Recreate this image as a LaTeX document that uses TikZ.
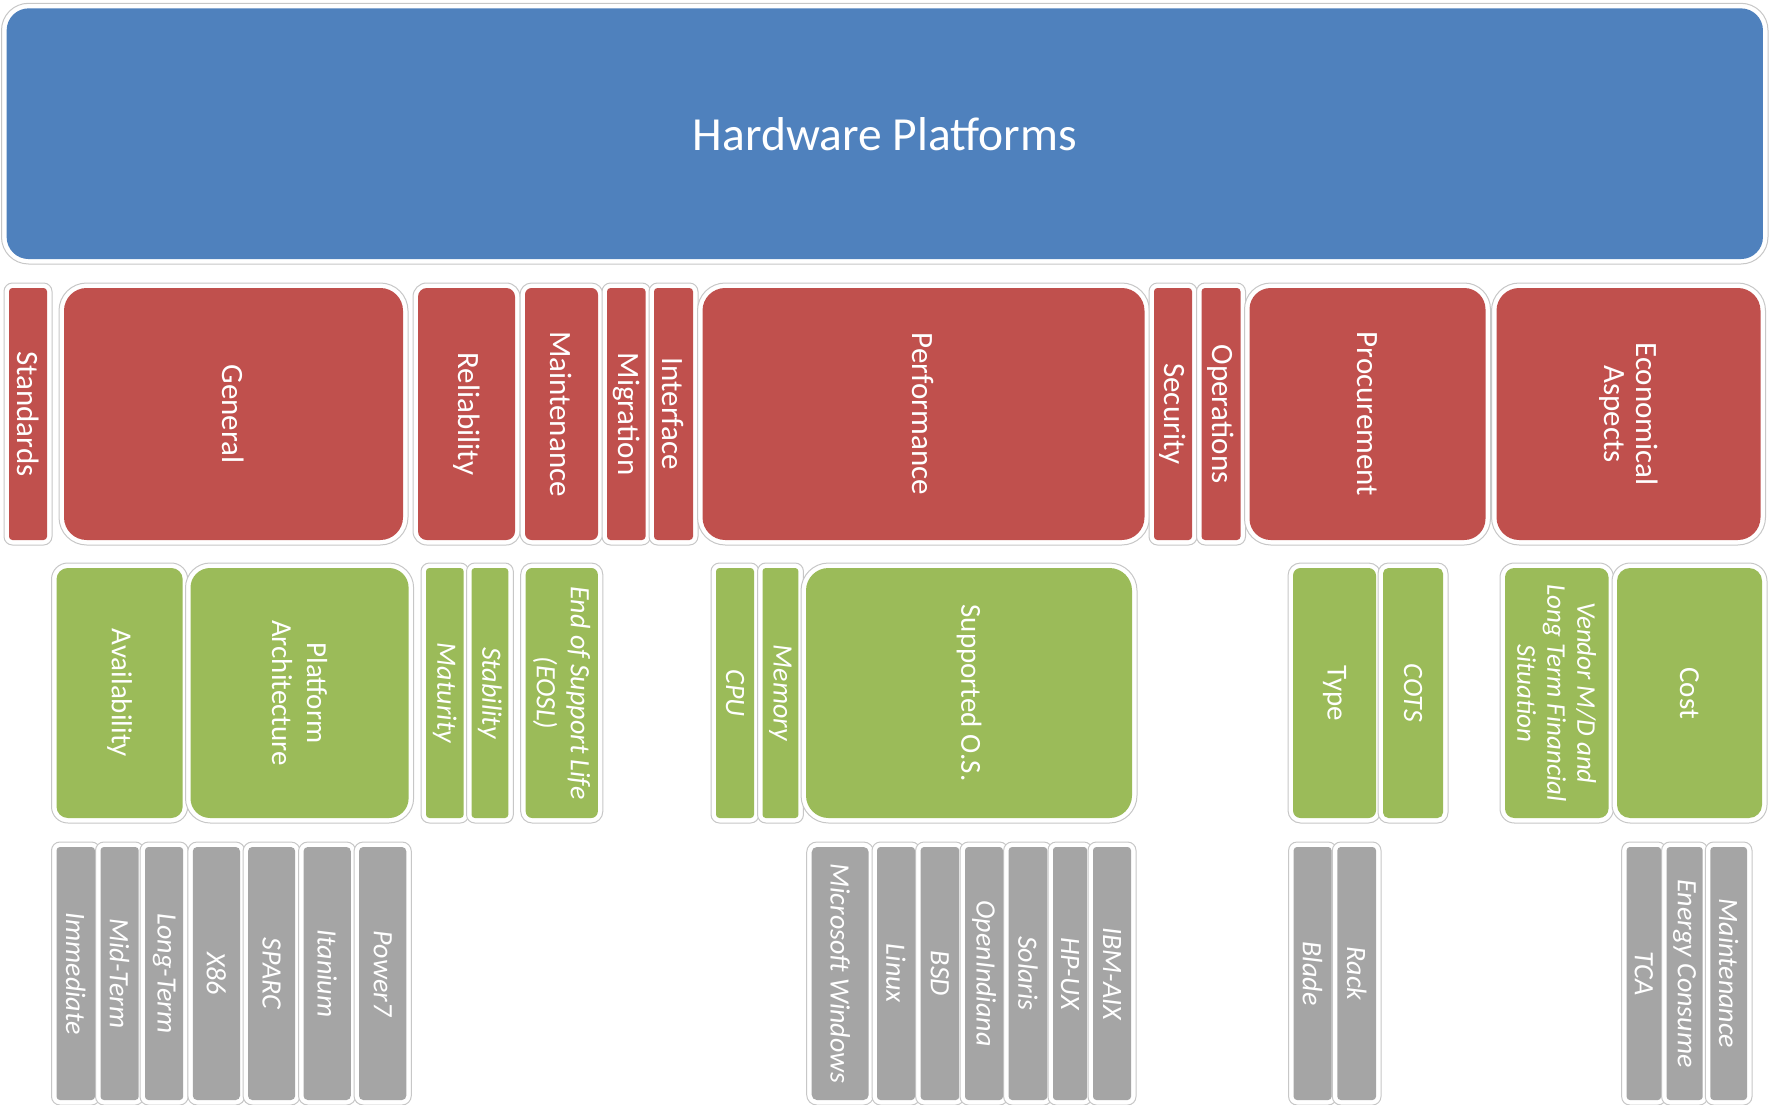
\documentclass[tikz,border=0pt]{standalone}
\usepackage{fontspec}
\setmainfont{Carlito}
\usepackage{xcolor}
\usetikzlibrary{math}
\definecolor{hwblue}{RGB}{79,129,189}
\definecolor{hwred}{RGB}{192,80,77}
\definecolor{hwgreen}{RGB}{155,187,89}
\definecolor{hwgray}{RGB}{165,165,165}
\pgfdeclarelayer{bg}
\pgfsetlayers{bg,main}

\tikzset{
  frame/.style={draw=black!22, line width=1pt, fill=white},
  tilebox/.style={rotate=-90, inner sep=0pt, align=center, text=white},
  redtile/.style={tilebox, fill=hwred, font=\fontsize{31}{32}\selectfont},
  greentile/.style={tilebox, fill=hwgreen, font=\fontsize{29}{35}\selectfont},
  greenit/.style={greentile, font=\fontsize{28}{34}\selectfont\itshape},
  graytile/.style={tilebox, fill=hwgray, font=\fontsize{28}{32}\selectfont\itshape},
}

% name, style, left, right, top, bottom, text
\newcommand{\tile}[7]{
  \tikzmath{
    \tw=#4-#3; \th=#6-#5;
    \tr=min(0.09*min(\tw,\th),24); \fr=\tr+5;
  }
  \begin{pgfonlayer}{bg}
    \draw[frame, rounded corners=\fr pt] (#3-5,#5-5) rectangle (#4+5,#6+5);
  \end{pgfonlayer}
  \node[#2, minimum width=\th pt, minimum height=\tw pt, rounded corners=\tr pt]
    (#1) at ({(#3+#4)/2},{(#5+#6)/2}) {#7};
}

\begin{document}
\begin{tikzpicture}[x=1pt,y=-1pt]
\useasboundingbox (0,0) rectangle (1773,1105);

% top level
\begin{pgfonlayer}{bg}
\draw[frame, rounded corners=27pt] (1.5,3.3) rectangle (1768,264);
\end{pgfonlayer}
\node[fill=hwblue, text=white, inner sep=0pt, rounded corners=22pt,
  minimum width=1756.3pt, minimum height=250.7pt,
  font=\fontsize{47.5}{50}\selectfont] (hw) at (884.8,133.7) {Hardware Platforms};

% criteria
\tile{std}{redtile}{9}{47}{288}{540}{Standards}
\tile{gen}{redtile}{64}{403}{288}{540}{General}
\tile{rel}{redtile}{418}{515}{288}{540}{Reliability}
\tile{mnt}{redtile}{525}{598}{288}{540}{Maintenance}
\tile{mig}{redtile}{607}{645.5}{288}{540}{Migration}
\tile{inf}{redtile}{654}{693}{288}{540}{Interface}
\tile{prf}{redtile}{702.5}{1144.5}{288}{540}{Performance}
\tile{sec}{redtile}{1154}{1192}{288}{540}{Security}
\tile{ops}{redtile}{1201.5}{1240.5}{288}{540}{Operations}
\tile{prc}{redtile}{1249.5}{1485.5}{288}{540}{Procurement}
\tile{eco}{redtile}{1496.5}{1760.5}{288}{540}{Economical\\Aspects}

% sub-criteria
\tile{ava}{greentile}{56.5}{182.7}{568}{818}{Availability}
\tile{pla}{greentile}{190.5}{408.6}{568}{818}{Platform\\Architecture}
\tile{mat}{greenit}{426}{463.7}{568}{818}{Maturity}
\tile{sta}{greenit}{471.5}{508.3}{568}{818}{Stability}
\tile{eos}{greenit}{525.7}{597.8}{568}{818}{End of Support Life\\(EOSL)}
\tile{cpu}{greenit}{716}{754}{568}{818}{CPU}
\tile{mem}{greenit}{762.5}{798.4}{568}{818}{Memory}
\tile{sos}{greentile}{806}{1132}{568}{818}{Supported O.S.}
\tile{typ}{greentile}{1293}{1376}{568}{818}{Type}
\tile{cot}{greenit}{1383}{1443}{568}{818}{COTS}
\tile{ven}{greenit, font=\fontsize{27}{30}\selectfont\itshape}{1505}{1608.5}{568}{818}{Vendor M/D and\\Long Term Financial\\Situation}
\tile{cst}{greentile}{1617}{1762}{568}{818}{Cost}

% options
\tile{imm}{graytile}{56.5}{95}{847}{1100}{Immediate}
\tile{mid}{graytile}{100.5}{138.7}{847}{1100}{Mid-Term}
\tile{lng}{graytile}{145}{183.2}{847}{1100}{Long-Term}
\tile{xes}{graytile}{192.8}{240}{847}{1100}{X86}
\tile{spa}{graytile}{248}{295.2}{847}{1100}{SPARC}
\tile{ita}{graytile}{303.5}{350.8}{847}{1100}{Itanium}
\tile{pow}{graytile}{359}{406.3}{847}{1100}{Power7}
\tile{win}{graytile}{811.7}{868.7}{847}{1100}{Microsoft Windows}
\tile{lin}{graytile}{877}{915}{847}{1100}{Linux}
\tile{bsd}{graytile}{920.6}{959.2}{847}{1100}{BSD}
\tile{opi}{graytile}{965}{1003}{847}{1100}{OpenIndiana}
\tile{sol}{graytile}{1008.6}{1047.3}{847}{1100}{Solaris}
\tile{hpx}{graytile}{1053}{1087}{847}{1100}{HP-UX}
\tile{aix}{graytile}{1093}{1131}{847}{1100}{IBM-AIX}
\tile{bla}{graytile}{1293.6}{1331.6}{847}{1100}{Blade}
\tile{rck}{graytile}{1337.3}{1376}{847}{1100}{Rack}
\tile{tca}{graytile}{1626.7}{1661}{847}{1100}{TCA}
\tile{ene}{graytile}{1666.6}{1702.7}{847}{1100}{Energy Consume}
\tile{mai}{graytile}{1710.3}{1747}{847}{1100}{Maintenance}
\end{tikzpicture}
\end{document}
